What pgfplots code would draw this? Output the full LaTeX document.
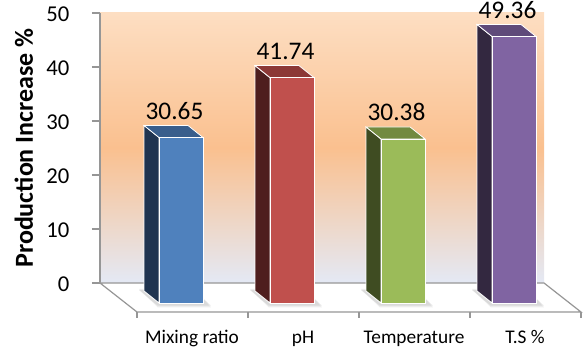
\documentclass[border=0pt]{standalone}
\usepackage{pgfplots}
\pgfplotsset{compat=1.18}
\usepackage{fontspec}
\setmainfont{Carlito}

\definecolor{wtop}{RGB}{253,222,194}
\definecolor{wmid}{RGB}{250,192,143}
\definecolor{wbot}{RGB}{228,233,245}
\definecolor{bfront}{RGB}{79,129,189}
\definecolor{bside}{RGB}{32,52,80}
\definecolor{btop}{RGB}{57,94,140}
\definecolor{rfront}{RGB}{192,80,77}
\definecolor{rside}{RGB}{78,30,30}
\definecolor{rtop}{RGB}{140,56,54}
\definecolor{gfront}{RGB}{155,187,89}
\definecolor{gside}{RGB}{63,76,34}
\definecolor{gtop}{RGB}{114,138,64}
\definecolor{pfront}{RGB}{128,100,162}
\definecolor{pside}{RGB}{51,40,64}
\definecolor{ptop}{RGB}{95,74,122}
\definecolor{axgray}{RGB}{150,150,150}

% shadow, side and top faces of a 3-D bar (index, value, side colour, top colour)
\newcommand\barfaces[4]{%
  \pgfmathsetmacro\Lx{#1+0.0315}%
  \pgfmathsetmacro\Rx{#1+0.4279}%
  \pgfmathsetmacro\Lb{#1-0.1036}%
  \pgfmathsetmacro\Rb{#1+0.2928}%
  \pgfmathsetmacro\Ty{#2-3.7037}%
  \pgfmathsetmacro\Tb{#2-1.4815}%
  \pgfmathsetmacro\Sa{#1-0.15}%
  \pgfmathsetmacro\Sb{#1+0.35}%
  \pgfmathsetmacro\Sc{#1+0.50}%
  \pgfmathsetmacro\Sd{#1+0.02}%
  \edef\doit{%
    \noexpand\addplot[fill=black, fill opacity=0.07, draw=none]
      coordinates {(\Sa,-1.1) (\Sb,-1.1) (\Sc,-4.5) (\Sd,-4.5)} -- cycle;
    \noexpand\addplot[fill=black, fill opacity=0.08, draw=none]
      coordinates {(\Sa,-1.3) (\Sb,-1.3) (\Sc,-4.2) (\Sd,-4.2)} -- cycle;
    \noexpand\addplot[fill=#3, draw=white, line width=0.6pt]
      coordinates {(\Lx,-3.7037) (\Lx,\Ty) (\Lb,\Tb) (\Lb,-1.4815)} -- cycle;
    \noexpand\addplot[fill=#4, draw=white, line width=0.6pt]
      coordinates {(\Lx,\Ty) (\Rx,\Ty) (\Rb,\Tb) (\Lb,\Tb)} -- cycle;
  }\doit
}

\begin{document}
\begin{tikzpicture}
\begin{axis}[
  scale only axis,
  x=83.25pt, y=4.05pt,
  xmin=-0.5, xmax=3.5, ymin=0, ymax=50,
  clip=false,
  axis background/.style={top color=wtop, bottom color=wbot, middle color=wmid},
  axis x line*=bottom, axis y line*=left,
  x axis line style={draw=none},
  y axis line style={draw=axgray, line width=1.1pt},
  xtick={0,1,2,3},
  xticklabels={Mixing ratio, pH, Temperature, T.S \%},
  x tick style={draw=none},
  xticklabel style={anchor=base, xshift=27.4pt, yshift=-39.5pt, font=\fontsize{14.5}{14.5}\selectfont},
  ytick={0,10,...,50},
  tick align=outside,
  major tick length=6pt,
  y tick style={draw=axgray, line width=1.1pt},
  yticklabel style={xshift=-13.5pt, yshift=-1pt, font=\fontsize{17}{17}\selectfont},
  /pgf/number format/assume math mode=true,
  /pgf/number format/fixed,
  /pgf/number format/precision=2,
  ylabel={Production Increase \%},
  every axis y label/.style={at={(axis description cs:-0.151,0.5)}, rotate=90, anchor=base, font=\fontsize{19.5}{19.5}\selectfont\bfseries},
]
% floor
\addplot[fill=white, draw=axgray, line width=0.9pt]
  coordinates {(-0.5,0) (3.5,0) (3.833,-5.37) (-0.167,-5.37)} -- cycle;
\addplot[draw=axgray, line width=0.9pt] coordinates {(-0.167,-5.37) (-0.167,-6.5)};
\addplot[draw=axgray, line width=0.9pt] coordinates {(0.833,-5.37) (0.833,-6.5)};
\addplot[draw=axgray, line width=0.9pt] coordinates {(1.833,-5.37) (1.833,-6.5)};
\addplot[draw=axgray, line width=0.9pt] coordinates {(2.833,-5.37) (2.833,-6.5)};
\addplot[draw=axgray, line width=0.9pt] coordinates {(3.833,-5.37) (3.833,-6.5)};

% bars: shadows, side and top faces
\barfaces{0}{30.65}{bside}{btop}
\barfaces{1}{41.74}{rside}{rtop}
\barfaces{2}{30.38}{gside}{gtop}
\barfaces{3}{49.36}{pside}{ptop}

% bars: front faces
\addplot[ybar, bar width=33pt, bar shift=0pt, xshift=19.125pt, yshift=-15pt, fill=bfront, draw=white, line width=0.6pt] coordinates {(0,30.65)};
\addplot[ybar, bar width=33pt, bar shift=0pt, xshift=19.125pt, yshift=-15pt, fill=rfront, draw=white, line width=0.6pt] coordinates {(1,41.74)};
\addplot[ybar, bar width=33pt, bar shift=0pt, xshift=19.125pt, yshift=-15pt, fill=gfront, draw=white, line width=0.6pt] coordinates {(2,30.38)};
\addplot[ybar, bar width=33pt, bar shift=0pt, xshift=19.125pt, yshift=-15pt, fill=pfront, draw=white, line width=0.6pt] coordinates {(3,49.36)};

% value labels
\addplot[draw=none, mark=none, nodes near coords,
  every node near coord/.append style={anchor=base, xshift=14.25pt, yshift=-1.5pt, text=black, font=\fontsize{19}{19}\selectfont}]
  coordinates {(0,30.65) (1,41.74) (2,30.38) (3,49.36)};
\end{axis}
\pgfresetboundingbox
\path[use as bounding box] (-75pt,-48.75pt) rectangle (363pt,212.25pt);
\end{tikzpicture}
\end{document}
